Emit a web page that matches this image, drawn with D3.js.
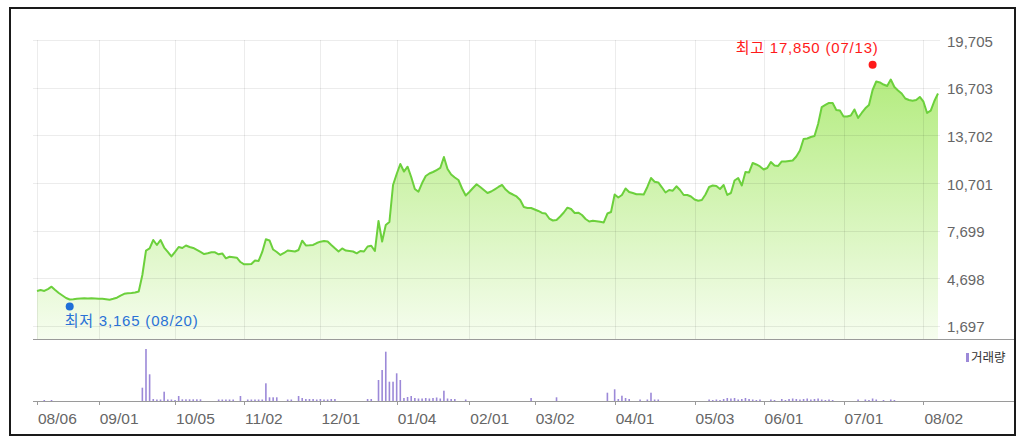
<!DOCTYPE html>
<html><head><meta charset="utf-8">
<script src="https://cdn.jsdelivr.net/npm/d3@7"></script>
<style>
html,body{margin:0;padding:0;background:#fff;}
svg{display:block;}
text{font-family:"Liberation Sans",Arial,"Noto Sans CJK KR",sans-serif;}
</style></head>
<body><svg id="c" width="1024" height="442"></svg>
<script>
// Trading days 2020-08-06 .. 2021-08-06 (index = trading day)
const tickLabels = ["08/06","09/01","10/05","11/02","12/01","01/04","02/01","03/02","04/01","05/03","06/01","07/01","08/02"];
const tickIndex  = [0,17,38,57,78,99,119,137,159,181,200,222,244];
const priceTicks = [1697,4698,7699,10701,13702,16703,19705];

const closes = [
3890,3950,3890,4010,4160,3950,3760,3600,3445,3350,
3365,3395,3415,3425,3415,3425,3420,3405,3395,3365,
3340,3395,3465,3600,3710,3740,3760,3790,3855,4895,
6440,6570,7105,6790,7105,6630,6350,6065,6350,6665,
6600,6760,6665,6600,6475,6350,6220,6265,6330,6330,
6200,6255,5950,6050,6020,5990,5715,5570,5570,5590,
5810,5780,6350,7150,7075,6505,6350,6160,6285,6440,
6410,6380,6475,7060,6760,6770,6790,6915,7000,7040,
7010,6790,6580,6380,6570,6440,6410,6380,6265,6410,
6380,6695,6745,6410,8305,7010,8050,8240,10575,11270,
11900,11425,11730,11080,10325,10150,10700,11145,11300,11395,
11520,11650,12340,11585,11240,11050,10890,10355,9910,10135,
10385,10620,10450,10260,10070,10165,10305,10450,10575,10290,
10085,9975,9850,9630,9185,9125,9125,9030,8935,8810,
8775,8460,8335,8365,8590,8840,9145,9060,8810,8830,
8680,8430,8270,8320,8290,8260,8210,8775,8870,9975,
9785,9945,10355,10135,10070,9995,9990,9975,10450,11015,
10785,10735,10430,10100,10260,10215,10495,10260,9945,9945,
9850,9660,9585,9630,9975,10450,10545,10510,10325,10575,
9945,10070,10860,11015,10545,11395,11365,11965,11870,11745,
11555,11650,12025,11805,11775,12060,12060,12090,12120,12375,
12750,13480,13510,13605,13665,14425,15495,15625,15750,15750,
15310,15275,14900,14900,14960,15340,14805,15120,15415,15625,
16570,17105,17045,16915,16820,17230,16760,16540,16350,16035,
15940,15895,15940,16130,15830,15120,15265,15875,16350
];

const volumes = [
0,0,100,0,100,0,0,0,0,0,
0,0,0,0,0,0,0,0,0,0,
0,0,0,0,0,0,0,0,0,1330,
5200,2670,200,150,150,930,150,150,100,500,
170,170,170,170,170,170,0,0,0,0,
150,150,150,150,150,0,500,0,150,150,
150,150,150,1770,370,370,370,0,0,150,
150,0,500,300,200,200,200,150,200,150,
150,200,200,0,0,0,0,0,0,0,
0,200,200,0,2100,3100,4930,1930,1930,2770,
2100,300,400,500,300,250,250,300,250,300,
350,250,1030,250,200,200,0,0,150,0,
0,0,0,0,0,0,0,0,0,0,
0,0,0,0,0,0,300,0,0,0,
0,0,0,370,0,0,0,0,0,0,
0,0,0,0,0,0,0,830,0,1170,
200,530,300,200,0,0,150,0,150,830,
150,150,0,0,0,0,0,0,0,0,
0,0,0,0,0,150,100,150,100,200,
300,250,300,150,200,300,200,150,100,150,
0,0,150,100,0,200,100,200,250,200,
150,200,250,150,200,250,150,100,150,100,
0,0,0,0,0,0,150,0,150,100,
250,150,0,100,0,150,100,0,0,0,
0,0,0,0,0,0,0,0,0
];

const high = {label:"최고", value:17850, date:"07/13", index:230};
const low  = {label:"최저", value:3165,  date:"08/20", index:9};
const volumeLabel = "거래량";

const svg = d3.select("#c");
const plotL = 33, plotR = 938, priceTop = 40.3, priceBot = 339, volBot = 401, volTop = 349;

const x = d3.scaleLinear().domain([0, closes.length - 1]).range([37, 938]);
const y = d3.scaleLinear().domain([858, 19705]).range([priceBot, priceTop]);
const yv = d3.scaleLinear().domain([0, 5200]).range([volBot, volTop]);

const defs = svg.append("defs");
const grad = defs.append("linearGradient").attr("id","g").attr("gradientUnits","userSpaceOnUse")
  .attr("x1",0).attr("y1",80).attr("x2",0).attr("y2",priceBot);
grad.append("stop").attr("offset","0%").attr("stop-color","#b4ec80");
grad.append("stop").attr("offset","100%").attr("stop-color","#f6fdef");

// area
const area = d3.area().x((d,i)=>x(i)).y0(priceBot).y1(d=>y(d));
svg.append("path").datum(closes).attr("d", area).attr("fill","url(#g)");

// grid
const grid = svg.append("g").attr("stroke","rgba(0,0,0,0.075)").attr("stroke-width",1).attr("shape-rendering","crispEdges");
grid.selectAll("line.h").data(priceTicks).join("line")
  .attr("x1",plotL).attr("x2",plotR+2).attr("y1",d=>Math.round(y(d))+0.5).attr("y2",d=>Math.round(y(d))+0.5);
grid.selectAll("line.v").data(tickIndex).join("line")
  .attr("x1",d=>Math.round(x(d))+0.5).attr("x2",d=>Math.round(x(d))+0.5).attr("y1",priceTop).attr("y2",priceBot);

// line
const line = d3.line().x((d,i)=>x(i)).y(d=>y(d));
svg.append("path").datum(closes).attr("d", line).attr("fill","none")
  .attr("stroke","#6cd03c").attr("stroke-width",2).attr("stroke-linejoin","round");

// price labels
svg.append("g").selectAll("text").data(priceTicks).join("text")
  .attr("x",947).attr("y",d=>y(d)+6.5).attr("fill","#666").attr("font-size",15)
  .text(d=>d3.format(",")(d));

// panel separator and volume axis
svg.append("line").attr("x1",plotL).attr("x2",1015).attr("y1",339.5).attr("y2",339.5).attr("stroke","#9a9a9a");
svg.append("line").attr("x1",plotL).attr("x2",1015).attr("y1",volBot+0.5).attr("y2",volBot+0.5).attr("stroke","#9a9a9a");

// volume bars
svg.append("g").selectAll("rect").data(volumes).join("rect")
  .attr("x",(d,i)=>x(i)-0.8).attr("width",1.6)
  .attr("y",d=>yv(d)).attr("height",d=>volBot - yv(d))
  .attr("fill","#9c89d8");

// x ticks + labels
const xt = svg.append("g");
xt.selectAll("line").data(tickIndex).join("line")
  .attr("x1",d=>Math.round(x(d))+0.5).attr("x2",d=>Math.round(x(d))+0.5)
  .attr("y1",volBot).attr("y2",volBot+4).attr("stroke","#9a9a9a");
xt.selectAll("text").data(tickIndex).join("text")
  .attr("x",d=>x(d)+1).attr("y",424).attr("fill","#666").attr("font-size",15.5)
  .text((d,i)=>tickLabels[i]);

// volume legend
svg.append("rect").attr("x",966).attr("y",353).attr("width",3).attr("height",9).attr("fill","#9c89d8");
svg.append("text").attr("x",971).attr("y",362).attr("fill","#333").attr("font-size",12.5).text(volumeLabel);

// high / low markers
const hx = x(high.index), hy = y(high.value) - 5;
svg.append("circle").attr("cx",hx).attr("cy",hy).attr("r",4).attr("fill","#ff1a1a");
svg.append("text").attr("x",hx+6).attr("y",hy-12).attr("text-anchor","end").attr("fill","#ff1a1a")
  .attr("font-size",15).attr("letter-spacing",0.8)
  .text(`${high.label} ${d3.format(",")(high.value)} (${high.date})`);
const lx = x(low.index), ly = y(low.value) + 4;
svg.append("circle").attr("cx",lx).attr("cy",ly).attr("r",4).attr("fill","#1f6fd8");
svg.append("text").attr("x",lx-5).attr("y",ly+20).attr("fill","#2a72d6")
  .attr("font-size",15).attr("letter-spacing",0.8)
  .text(`${low.label} ${d3.format(",")(low.value)} (${low.date})`);

// outer frame
svg.append("rect").attr("x",10).attr("y",8).attr("width",1005).attr("height",427)
  .attr("fill","none").attr("stroke","#1a1a1a").attr("stroke-width",2);
</script></body></html>
